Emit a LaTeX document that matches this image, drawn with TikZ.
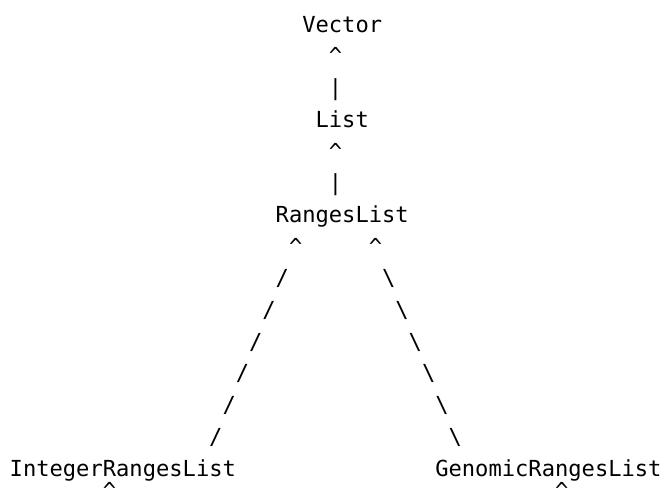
\documentclass[tikz,border=0pt]{standalone}
\usepackage{fontspec}
\setmonofont{DejaVu Sans Mono}
\tikzset{ascii/.style={anchor=base west,inner sep=0pt,font=\ttfamily\fontsize{6.29pt}{7pt}\selectfont}}
\begin{document}
\begin{tikzpicture}
    \useasboundingbox (0,0) rectangle (6.65,-5);
    \begin{scope}[shift={(0.09,-0.322)},x=0.133cm,y=-0.317cm]
        \node[ascii] (vector) at (22,0) {Vector};
        \node[ascii] (upv) at (24,1) {\textasciicircum};
        \node[ascii] (barv) at (24,2) {\textbar};

        \node[ascii] (list) at (23,3) {List};
        \node[ascii] (upl) at (24,4) {\textasciicircum};
        \node[ascii] (barl) at (24,5) {\textbar};

        \node[ascii] (ranges) at (20,6) {RangesList};
        \node[ascii] (upleft) at (21,7) {\textasciicircum};
        \node[ascii] (upright) at (27,7) {\textasciicircum};
        \foreach \i in {0,...,5}{
            \node[ascii] (sl\i) at (20-\i,8+\i) {/};
            \node[ascii] (bs\i) at (28+\i,8+\i) {\textbackslash};
        }

        \node[ascii] (integer) at (0,14) {IntegerRangesList};
        \node[ascii] (genomic) at (32,14) {GenomicRangesList};
        \node[ascii] (upint) at (7,14.72) {\textasciicircum};
        \node[ascii] (upgen) at (41,14.72) {\textasciicircum};
    \end{scope}
\end{tikzpicture}
\end{document}
